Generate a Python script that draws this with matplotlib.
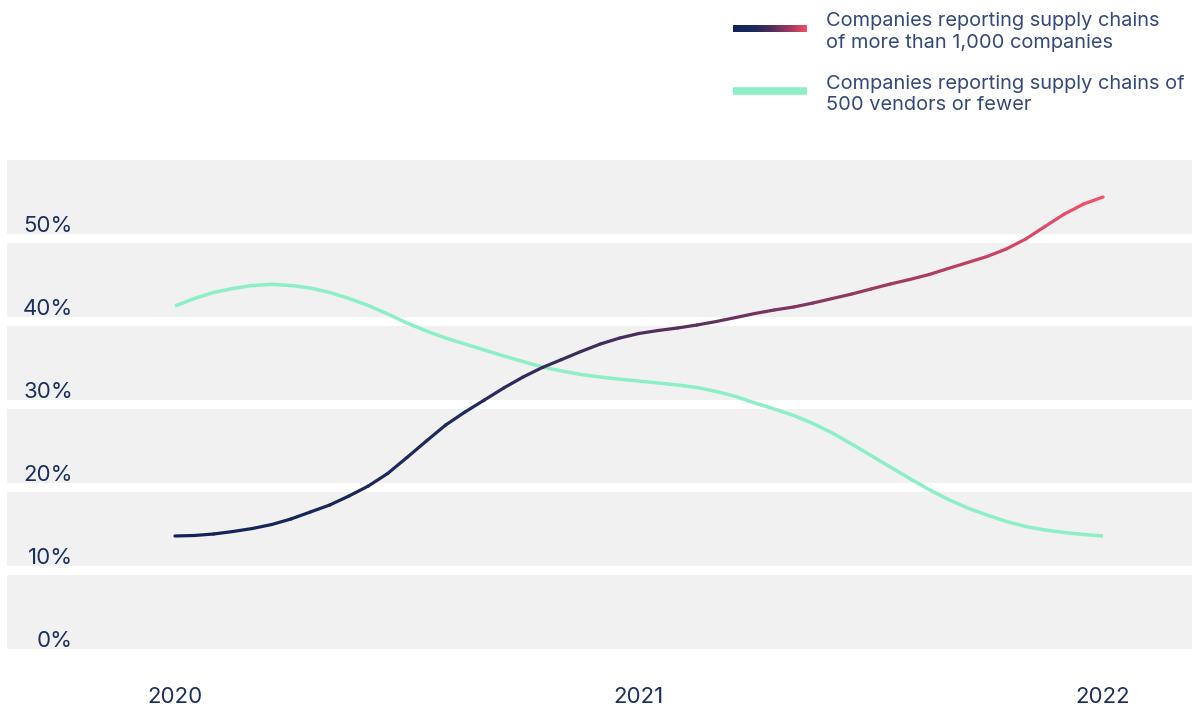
import matplotlib
matplotlib.use("Agg")
import matplotlib.pyplot as plt
import numpy as np
from matplotlib.collections import LineCollection
from matplotlib.colors import LinearSegmentedColormap
from matplotlib.lines import Line2D

plt.rcParams['font.family'] = ['Inter', 'DejaVu Sans']

# half-monthly readings, Jan 2020 .. Jan 2022
half_months = np.arange(49)
years = [2020, 2021, 2022]
large_chain = [13.58, 13.64, 13.82, 14.12, 14.48, 14.96, 15.63, 16.47, 17.31, 18.40,
               19.60, 21.11, 23.04, 25.02, 26.95, 28.52, 29.96, 31.41, 32.73, 33.88,
               34.84, 35.81, 36.71, 37.43, 37.98, 38.34, 38.64, 39.00, 39.42, 39.90,
               40.39, 40.81, 41.17, 41.65, 42.19, 42.73, 43.34, 43.94, 44.48, 45.08,
               45.81, 46.53, 47.25, 48.16, 49.36, 50.87, 52.37, 53.58, 54.42]
small_chain = [41.29, 42.19, 42.92, 43.40, 43.76, 43.90, 43.76, 43.46, 42.92, 42.19,
               41.35, 40.33, 39.24, 38.28, 37.43, 36.71, 35.99, 35.27, 34.60, 33.94,
               33.46, 33.04, 32.73, 32.47, 32.25, 32.01, 31.77, 31.47, 30.99, 30.39,
               29.60, 28.88, 28.10, 27.13, 25.99, 24.66, 23.28, 21.89, 20.51, 19.18,
               17.98, 16.95, 16.11, 15.33, 14.72, 14.30, 14.00, 13.76, 13.58]
y_ticks = [0, 10, 20, 30, 40, 50]
legend_labels = ["Companies reporting supply chains\nof more than 1,000 companies",
                 "Companies reporting supply chains of\n500 vendors or fewer"]

navy = '#1b2f5e'
green = '#8cefc6'
band = '#f1f1f1'
grad = LinearSegmentedColormap.from_list(
    'chain', [(0.0, '#0f2358'), (0.3, '#1f2a5c'), (0.5, '#4a2d5c'),
              (0.8, '#a83c5f'), (1.0, '#f4506a')])

W, H = 1193, 707
fig = plt.figure(figsize=(W / 100, H / 100), dpi=100)
ax = fig.add_axes([7 / W, 1 - 648.7 / H, 1185 / W, 488.7 / H])

x = 2020 + half_months / 24.0
ax.set_xlim(2020 - 168 / 464, 2022 + 89 / 464)
ax.set_ylim(0, 58.88)

# grey bands with white gaps just under each gridline
for t in y_ticks:
    ax.axhspan(t, t + 8.88, color=band, lw=0, zorder=0)

# small-chain series
ax.plot(x, small_chain, color=green, lw=2.5, solid_capstyle='butt',
        solid_joinstyle='round', zorder=2)

# large-chain series, coloured along x
pts = np.column_stack([x, large_chain])
segs = np.stack([pts[:-1], pts[1:]], axis=1)
frac = (x[:-1] + x[1:]) / 2 - 2020
lc = LineCollection(segs, colors=grad(frac / 2.0), linewidths=2.3,
                    capstyle='round', zorder=3)
ax.add_collection(lc)

for t in y_ticks:
    ax.text(66 / 1185, t + 0.25, f"{t}%", ha='right', va='baseline',
            fontsize=16, color=navy, transform=ax.get_yaxis_transform())
for yr in years:
    ax.text(yr, -(703 - 648.7) / 488.7, str(yr), ha='center', va='baseline',
            fontsize=16, color=navy, transform=ax.get_xaxis_transform())

ax.set_xticks([])
ax.set_yticks([])
for s in ax.spines.values():
    s.set_visible(False)

# legend
gax = fig.add_axes([733 / W, 1 - 32 / H, 74 / W, 7.5 / H])
gax.imshow(np.linspace(0, 1, 200)[None, :], cmap=grad, aspect='auto')
gax.axis('off')
fig.add_artist(Line2D([733 / W, 807 / W], [1 - 90.5 / H, 1 - 90.5 / H],
                      color=green, lw=5.4, solid_capstyle='butt',
                      transform=fig.transFigure))
for lab, top in zip(legend_labels, [12, 75]):
    fig.text(826 / W, 1 - top / H, lab, ha='left', va='top', fontsize=14.4,
             color='#34497a', linespacing=1.25)

fig.savefig('out.png', dpi=100)
